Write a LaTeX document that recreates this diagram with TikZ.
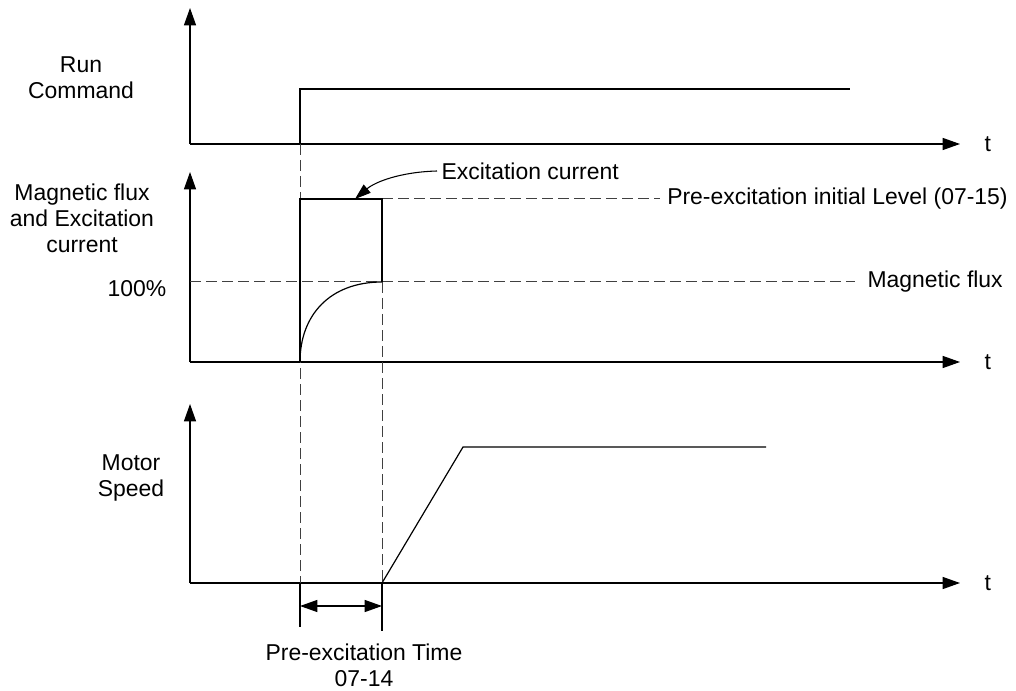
\documentclass[tikz,border=0pt]{standalone}
\usepackage{fontspec}
\setmainfont{Liberation Sans}
\usetikzlibrary{arrows.meta, positioning}

\begin{document}
\begin{tikzpicture}[x=0.75pt, y=-0.75pt, line width=0.9pt,
    tri/.tip={Triangle[length=13pt, width=9pt]},
    axis/.style={-tri},
    guide/.style={line width=0.75pt, black!75, dash pattern=on 8pt off 4pt},
    lbl/.style={font=\fontsize{17.2}{19.5}\selectfont, align=center, inner sep=0pt}]
  \useasboundingbox (0,0) rectangle (1016,691);
  % three time axes
  \foreach \n/\ytop/\ybase in {run/8/144, flux/172/362, speed/404/583}{
    \coordinate (\n-o) at (190,\ybase);
    \coordinate (\n-y) at (190,\ytop);
    \coordinate (\n-x) at (960,\ybase);
    \draw[axis] (\n-o) -- (\n-y);
    \draw[axis] (\n-o) -- (\n-x);
    \node[lbl, right=18pt of \n-x] (\n-t) {t};
  }
  % axis labels
  \node[lbl] (run-lbl) at (81,78) {Run\\Command};
  \node[lbl] (flux-lbl) at (82,218) {Magnetic flux\\and Excitation\\current};
  \node[lbl] (pct-lbl) at (137,289) {100\%};
  \node[lbl] (speed-lbl) at (131,478) {Motor\\Speed};

  % key points
  \coordinate (on) at (300,144);
  \coordinate (on-hi) at (300,89);
  \coordinate (run-end) at (850,89);
  \coordinate (ex-bl) at (300,362);
  \coordinate (ex-tl) at (300,199);
  \coordinate (ex-tr) at (382,199);
  \coordinate (ex-br) at (382,282);
  \coordinate (lvl-end) at (660,199);
  \coordinate (pct-end) at (855,282);
  \coordinate (sp-start) at (382,583);
  \coordinate (sp-knee) at (463,447);
  \coordinate (sp-end) at (766,447);
  \coordinate (tick0) at (300,627);
  \coordinate (tick1) at (382,631);
  \coordinate (d0) at (300,606);
  \coordinate (d1) at (382,606);
  \coordinate (exc-tip) at (355,199);

  % dashed guides
  \draw[guide] (on) -- (on |- speed-o);
  \draw[guide] (ex-br) -- (ex-br |- speed-o);
  \draw[guide] (ex-tr) -- (lvl-end);
  \draw[guide] (flux-o |- ex-br) -- (pct-end);
  \node[lbl, right=5pt of lvl-end] (lvl-lbl) {Pre-excitation initial Level (07-15)};
  \node[lbl, right=9pt of pct-end] (mf-lbl) {Magnetic flux};

  % signals
  \draw (on) -- (on-hi) -- (run-end);
  \draw (ex-bl) -- (ex-tl) -- (ex-tr) -- (ex-br);
  \draw (ex-bl) .. controls (300,315) and (330,282) .. (ex-br);
  \draw (sp-start) -- (sp-knee) -- (sp-end);

  % pre-excitation time
  \draw (speed-o -| on) -- (tick0);
  \draw (sp-start) -- (tick1);
  \draw[tri-tri] (d0) -- (d1);
  \node[lbl] (time-lbl) at (364,665) {Pre-excitation Time\\07-14};

  % excitation current leader
  \node[lbl, anchor=west] (exc-lbl) at (441,171) {Excitation current};
  \draw[line width=0.8pt, -{Triangle[length=12pt, width=8pt]}] ([xshift=-3pt]exc-lbl.west)
    .. controls (400,172) and (375,182) .. (exc-tip);
\end{tikzpicture}
\end{document}
